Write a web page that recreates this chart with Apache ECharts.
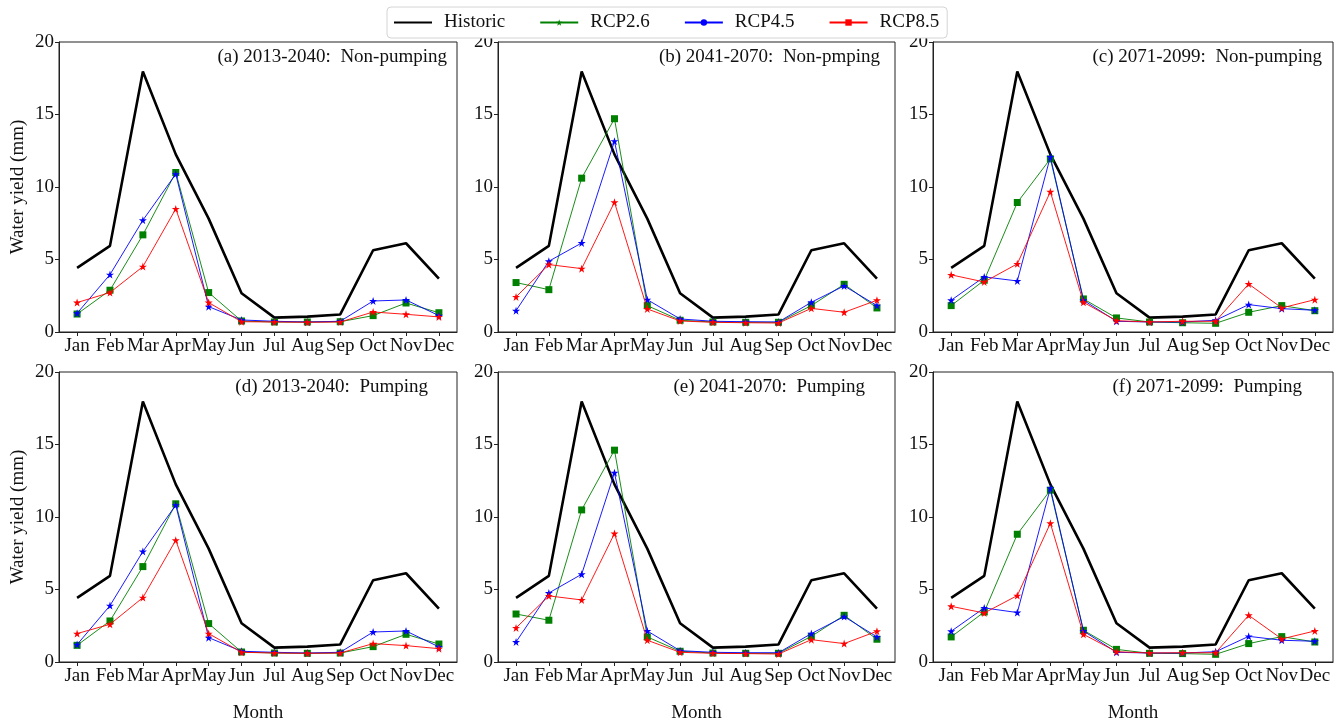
<!DOCTYPE html>
<html>
<head>
<meta charset="utf-8">
<script src="https://cdn.jsdelivr.net/npm/echarts@6/dist/echarts.min.js"></script>
<style>
  html, body { margin: 0; padding: 0; background: #fff; }
  #chart { width: 1338px; height: 725px; }
</style>
</head>
<body>
<div id="chart"></div>
<script>
// Monthly water yield (mm): historic baseline and three RCP scenarios per period
const months = ['Jan', 'Feb', 'Mar', 'Apr', 'May', 'Jun', 'Jul', 'Aug', 'Sep', 'Oct', 'Nov', 'Dec'];
const yTicks = [0, 5, 10, 15, 20];
const legendNames = ['Historic', 'RCP2.6', 'RCP4.5', 'RCP8.5'];
const panelTitles = [
  '(a) 2013-2040:  Non-pumping',
  '(b) 2041-2070:  Non-pmping',
  '(c) 2071-2099:  Non-pumping',
  '(d) 2013-2040:  Pumping',
  '(e) 2041-2070:  Pumping',
  '(f) 2071-2099:  Pumping'
];

const historic = [4.42, 5.94, 17.97, 12.25, 7.82, 2.67, 0.99, 1.06, 1.21, 5.64, 6.12, 3.68];

// (a) 2013-2040 non-pumping
const rcp26A = [1.24, 2.88, 6.70, 11.00, 2.72, 0.76, 0.69, 0.69, 0.71, 1.13, 2.00, 1.33];
const rcp45A = [1.29, 3.96, 7.71, 10.89, 1.75, 0.83, 0.74, 0.69, 0.74, 2.14, 2.21, 1.13];
const rcp85A = [2.03, 2.72, 4.51, 8.49, 2.03, 0.71, 0.69, 0.67, 0.69, 1.38, 1.22, 1.04];
// (b) 2041-2070 non-pumping
const rcp26B = [3.41, 2.92, 10.61, 14.71, 1.82, 0.81, 0.69, 0.67, 0.67, 1.82, 3.29, 1.66];
const rcp45B = [1.47, 4.88, 6.14, 13.16, 2.23, 0.90, 0.74, 0.71, 0.69, 2.05, 3.18, 1.82];
const rcp85B = [2.42, 4.65, 4.37, 8.95, 1.59, 0.76, 0.67, 0.64, 0.62, 1.63, 1.36, 2.19];
// (c) 2071-2099 non-pumping
const rcp26C = [1.82, 3.57, 8.93, 11.94, 2.28, 0.97, 0.69, 0.64, 0.60, 1.36, 1.82, 1.47];
const rcp45C = [2.19, 3.80, 3.52, 12.08, 2.19, 0.74, 0.69, 0.69, 0.81, 1.89, 1.61, 1.50];
const rcp85C = [3.94, 3.45, 4.70, 9.67, 2.05, 0.78, 0.69, 0.74, 0.74, 3.31, 1.66, 2.23];
// (d) 2013-2040 pumping
const rcp26D = [1.15, 2.83, 6.58, 10.91, 2.65, 0.69, 0.62, 0.60, 0.62, 1.06, 1.91, 1.24];
const rcp45D = [1.20, 3.89, 7.62, 10.82, 1.68, 0.74, 0.67, 0.62, 0.67, 2.07, 2.14, 1.04];
const rcp85D = [1.96, 2.60, 4.44, 8.40, 1.96, 0.67, 0.62, 0.60, 0.62, 1.27, 1.13, 0.92];
// (e) 2041-2070 pumping
const rcp26E = [3.31, 2.88, 10.49, 14.61, 1.73, 0.74, 0.62, 0.60, 0.60, 1.77, 3.22, 1.57];
const rcp45E = [1.38, 4.76, 6.05, 13.05, 2.14, 0.78, 0.67, 0.64, 0.64, 1.96, 3.13, 1.73];
const rcp85E = [2.35, 4.56, 4.28, 8.86, 1.50, 0.67, 0.60, 0.58, 0.55, 1.54, 1.27, 2.12];
// (f) 2071-2099 pumping
const rcp26F = [1.73, 3.45, 8.81, 11.85, 2.19, 0.87, 0.60, 0.58, 0.53, 1.27, 1.75, 1.38];
const rcp45F = [2.12, 3.73, 3.41, 11.99, 2.14, 0.67, 0.62, 0.62, 0.71, 1.77, 1.50, 1.43];
const rcp85F = [3.84, 3.38, 4.58, 9.57, 1.91, 0.71, 0.62, 0.64, 0.64, 3.22, 1.59, 2.14];

const panelSeries = [
  [rcp26A, rcp45A, rcp85A],
  [rcp26B, rcp45B, rcp85B],
  [rcp26C, rcp45C, rcp85C],
  [rcp26D, rcp45D, rcp85D],
  [rcp26E, rcp45E, rcp85E],
  [rcp26F, rcp45F, rcp85F]
];

// ---- layout & styling ----
const FONT = '"Liberation Serif", "Times New Roman", serif';
const TEXT = '#111';
const AXIS = '#222';
const STAR = 'path://M50,0 L61.2,34.5 L97.6,34.5 L68.2,55.9 L79.4,90.5 L50,69.1 L20.6,90.5 L31.8,55.9 L2.4,34.5 L38.8,34.5 Z';
const colLeft = [59, 498, 933];
const colWidth = [398, 397, 400];
const rowTop = [42, 372];
const plotH = 290;
const titleRight = [447, 880, 1322, 428, 865, 1302];
const colors = ['#008000', '#0000ff', '#ff0000'];
const symbols = ['rect', STAR, STAR];
const symbolSizes = [7, 8, 8];

const grids = [], xAxes = [], yAxes = [], series = [], graphics = [];
const monthIdx = months.map((_, k) => k);

for (let p = 0; p < 6; p++) {
  const row = Math.floor(p / 3), col = p % 3;
  grids.push({
    left: colLeft[col], top: rowTop[row], width: colWidth[col], height: plotH,
    show: true, borderColor: AXIS, borderWidth: 1, backgroundColor: 'transparent'
  });
  xAxes.push({
    gridIndex: p, type: 'value', min: -0.55, max: 11.55,
    axisLine: { show: true, onZero: false, lineStyle: { color: AXIS, width: 1 } },
    axisTick: { show: true, length: 4, customValues: monthIdx, lineStyle: { color: AXIS, width: 1 } },
    axisLabel: {
      customValues: monthIdx, formatter: v => months[Math.round(v)],
      fontFamily: FONT, fontSize: 19, color: TEXT, margin: 5
    },
    splitLine: { show: false },
    name: row === 1 ? 'Month' : '',
    nameLocation: 'middle', nameGap: 42,
    nameTextStyle: { fontFamily: FONT, fontSize: 19, color: TEXT }
  });
  yAxes.push({
    gridIndex: p, type: 'value', min: yTicks[0], max: yTicks[yTicks.length - 1], interval: 5,
    axisLine: { show: true, onZero: false, lineStyle: { color: AXIS, width: 1 } },
    axisTick: { show: true, length: 4, lineStyle: { color: AXIS, width: 1 } },
    axisLabel: { fontFamily: FONT, fontSize: 19, color: TEXT, margin: 5 },
    splitLine: { show: false },
    name: col === 0 ? 'Water yield (mm)' : '',
    nameLocation: 'middle', nameGap: 31, nameRotate: 90,
    nameTextStyle: { fontFamily: FONT, fontSize: 19, color: TEXT }
  });

  series.push({
    name: 'Historic ' + p, type: 'line', xAxisIndex: p, yAxisIndex: p,
    data: historic.map((v, k) => [k, v]), symbol: 'none',
    lineStyle: { color: '#000', width: 2.6 }, itemStyle: { color: '#000' },
    z: 2, silent: true
  });
  panelSeries[p].forEach((arr, s) => {
    series.push({
      name: legendNames[s + 1] + ' ' + p, type: 'line', xAxisIndex: p, yAxisIndex: p,
      data: arr.map((v, k) => [k, v]),
      symbol: symbols[s], symbolSize: symbolSizes[s], showAllSymbol: true,
      lineStyle: { color: colors[s], width: 0.9 },
      itemStyle: { color: colors[s] },
      z: 3 + s, silent: true
    });
  });

  graphics.push({
    type: 'text', x: titleRight[p], y: rowTop[row] + 15,
    style: {
      text: panelTitles[p], fill: TEXT, font: '19px ' + FONT,
      align: 'right', verticalAlign: 'middle'
    }
  });
}

// Legend entries (their markers differ from the plotted ones)
const legendSymbols = ['none', STAR, 'circle', 'rect'];
const legendColors = ['#000', '#008000', '#0000ff', '#ff0000'];
legendNames.forEach((n, i) => {
  series.push({
    name: n, type: 'line', xAxisIndex: 0, yAxisIndex: 0, data: [],
    symbol: legendSymbols[i],
    lineStyle: { color: legendColors[i], width: i === 0 ? 2.6 : 1 },
    itemStyle: { color: legendColors[i] }
  });
});

const chart = echarts.init(document.getElementById('chart'));
chart.setOption({
  animation: false,
  backgroundColor: '#fff',
  grid: grids,
  xAxis: xAxes,
  yAxis: yAxes,
  legend: {
    data: legendNames.map((n, i) => i === 0 ? { name: n, itemStyle: { opacity: 0 } } : { name: n }),
    left: 387, top: 7,
    padding: [6, 8, 6, 6],
    itemWidth: 38, itemHeight: 8, itemGap: 34,
    backgroundColor: '#fff', borderColor: '#d4d4d4', borderWidth: 1, borderRadius: 4,
    selectedMode: false,
    textStyle: { fontFamily: FONT, fontSize: 19, color: TEXT, padding: [0, 0, 0, 7] }
  },
  graphic: graphics,
  series: series
});
</script>
</body>
</html>
